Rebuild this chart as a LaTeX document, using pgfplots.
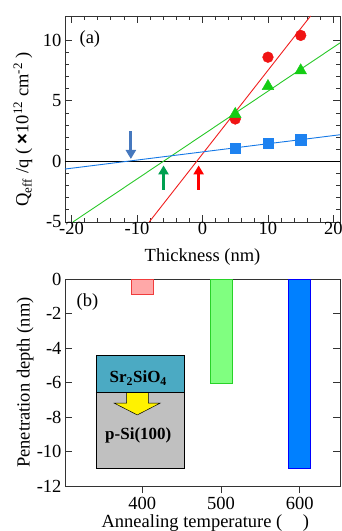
\documentclass[border=0pt]{standalone}
\usepackage{fontspec}
\setmainfont{Liberation Serif}
\setsansfont{Liberation Sans}
\usepackage{pgfplots}
\pgfplotsset{compat=1.18}
\usetikzlibrary{arrows.meta}
\definecolor{cred}{RGB}{240,20,20}
\definecolor{cgreen}{RGB}{20,205,20}
\definecolor{cblue}{RGB}{30,130,240}
\definecolor{lred}{RGB}{240,30,30}
\definecolor{lgreen}{RGB}{40,200,40}
\definecolor{lblue}{RGB}{20,120,230}
\definecolor{ablue}{RGB}{70,120,190}
\definecolor{agreen}{RGB}{0,160,80}
\definecolor{teal2}{RGB}{75,170,195}
\definecolor{gray2}{RGB}{192,192,192}
\definecolor{b1fill}{RGB}{255,168,168}
\definecolor{b1line}{RGB}{240,60,60}
\definecolor{b2fill}{RGB}{128,255,128}
\definecolor{b2line}{RGB}{40,210,40}
\definecolor{b3fill}{RGB}{0,128,255}
\definecolor{b3line}{RGB}{0,0,255}
\newcommand{\bigf}{\fontsize{18.5}{20}\selectfont}
\begin{document}
\begin{tikzpicture}
\pgfplotsset{
  common/.style={
    scale only axis, width=275pt,
    axis line style={black!80, line width=0.8pt},
    tick style={black!80, line width=0.8pt},
    tick align=inside,
    major tick length=7pt, minor tick length=4pt,
    tick label style={font=\bigf},
    label style={font=\bigf},
    clip=true,
  }
}
% ---------------- (a)
\begin{axis}[common,
  at={(65pt,309pt)}, anchor=south west, height=206pt,
  xmin=-21, xmax=21, ymin=-5, ymax=12,
  xtick={-20,-10,0,10,20}, ytick={-5,0,5,10},
  xticklabels={-20,-10,0,10,20}, yticklabels={-5,0,5,10},
  minor x tick num=4, minor y tick num=4,
  xtick pos=both, ytick pos=both,
  xlabel={Thickness (nm)},
  xlabel style={at={(axis description cs:0.5,-0.17)}, anchor=center},
  ylabel={Q\textsubscript{eff} /q ( {\sffamily\bfseries ×}10\textsuperscript{12} cm\textsuperscript{-2} )},
  ylabel style={at={(axis description cs:-0.153,0.45)}, anchor=center},
  xticklabel style={yshift=3pt},
]
\addplot[black, line width=0.9pt] coordinates {(-21,0) (21,0)};
\addplot[lred, line width=0.9pt] coordinates {(-8.14,-5) (16.5,12)};
\addplot[lgreen, line width=0.9pt] coordinates {(-19.8,-5) (21,9.78)};
\addplot[lblue, line width=0.9pt] coordinates {(-21,-0.63) (21,2.2)};
\addplot[only marks, mark=*, mark size=5.4pt, cred, mark options={draw=cred, fill=cred}] coordinates {(5,3.5) (10,8.6) (15,10.4)};
\addplot[only marks, mark=square*, mark size=5.2pt, cblue, mark options={draw=cblue, fill=cblue}] coordinates {(5,1.1) (10,1.5) (15,1.8)};
\addplot[only marks, mark=triangle*, mark size=6.8pt, cgreen, mark options={draw=cgreen, fill=cgreen}] coordinates {(5,3.9) (10,6.2) (15,7.5)};
\draw[ablue, line width=3pt, -{Triangle[width=10pt,length=9pt]}] (axis cs:-10.94,2.5) -- (axis cs:-10.94,0.2);
\draw[agreen, line width=3pt, -{Triangle[width=10pt,length=9pt]}] (axis cs:-5.95,-2.34) -- (axis cs:-5.95,-0.33);
\draw[red, line width=3pt, -{Triangle[width=10pt,length=9pt]}] (axis cs:-0.59,-2.34) -- (axis cs:-0.59,-0.33);
\node[font=\bigf] at (axis cs:-17.2,10.1) {(a)};
\end{axis}
% ---------------- (b)
\begin{axis}[common,
  at={(65pt,45pt)}, anchor=south west, height=207pt,
  xmin=302, xmax=651, ymin=-12, ymax=0,
  xtick={400,500,600}, ytick={-12,-10,-8,-6,-4,-2,0},
  xticklabels={400,500,600}, yticklabels={-12,-10,-8,-6,-4,-2,0},
  xtick pos=bottom, ytick pos=both,
  ybar, bar width=28, bar shift=0pt,
  xlabel={Annealing temperature (\hspace{1.1em})},
  xlabel style={at={(axis description cs:0.51,-0.178)}, anchor=center},
  ylabel={Penetration depth (nm)},
  ylabel style={at={(axis description cs:-0.145,0.5)}, anchor=center},
  xticklabel style={yshift=-1pt},
]
\addplot[draw=b1line, fill=b1fill, line width=0.9pt] coordinates {(400,-0.9)};
\addplot[draw=b2line, fill=b2fill, line width=0.9pt] coordinates {(500,-6.05)};
\addplot[draw=b3line, fill=b3fill, line width=0.9pt] coordinates {(600,-11.0)};
\node[font=\bigf] at (axis cs:330.5,-1.36) {(b)};
% inset
\fill[gray2] (axis cs:341.3,-6.58) rectangle (axis cs:453,-10.97);
\fill[teal2] (axis cs:341.3,-4.45) rectangle (axis cs:453,-6.58);
\draw[fill=yellow, line width=0.5pt] (axis cs:380.3,-6.58) -- (axis cs:380.3,-7.2) -- (axis cs:364.6,-7.2) -- (axis cs:393.7,-7.88) -- (axis cs:422.6,-7.2) -- (axis cs:407.7,-7.2) -- (axis cs:407.7,-6.58);
\draw[black, line width=0.8pt] (axis cs:341.3,-4.45) rectangle (axis cs:453,-10.97);
\draw[black, line width=0.8pt] (axis cs:341.3,-6.58) -- (axis cs:453,-6.58);
\node[font=\fontsize{17}{19}\selectfont\bfseries] at (axis cs:395,-5.75) {Sr\textsubscript{2}SiO\textsubscript{4}};
\node[font=\fontsize{17}{19}\selectfont\bfseries] at (axis cs:395,-9.05) {p-Si(100)};
\end{axis}
\pgfresetboundingbox
\useasboundingbox (0,0) rectangle (342pt,531pt);
\end{tikzpicture}
\end{document}
